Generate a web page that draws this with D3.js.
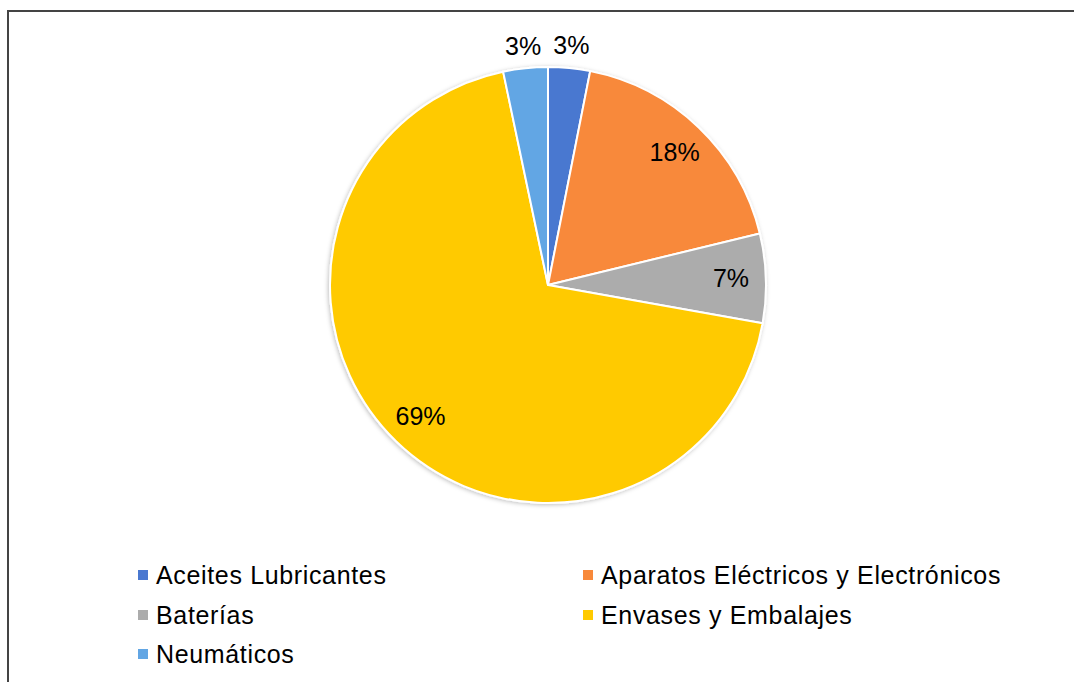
<!DOCTYPE html>
<html>
<head>
<meta charset="utf-8">
<script src="https://cdn.jsdelivr.net/npm/d3@7"></script>
<style>
  body { margin: 0; background: #fff; }
  svg { display: block; font-family: "Liberation Sans", Arial, sans-serif; }
</style>
</head>
<body>
<svg width="1074" height="682"></svg>
<script>
// categories, values (%) and colours
const categories = ['Aceites Lubricantes', 'Aparatos Eléctricos y Electrónicos', 'Baterías', 'Envases y Embalajes', 'Neumáticos'];
const values = [3.1, 18.1, 6.6, 68.9, 3.3];
const colors = ['#4a78d0', '#f8893a', '#acacac', '#ffca00', '#62a6e4'];

const width = 1074, height = 682;
const cx = 548, cy = 285, radius = 218;

let svg = d3.select('svg');

// frame (only top and left edges visible)
svg.append('path')
    .attr('d', `M8,${height} L8,11 L${width},11`)
    .attr('fill', 'none')
    .attr('stroke', '#444')
    .attr('stroke-width', 2);

// soft shadow under the pie
let defs = svg.append('defs');
let filter = defs.append('filter').attr('id', 'shadow')
    .attr('x', '-10%').attr('y', '-10%').attr('width', '120%').attr('height', '120%');
filter.append('feDropShadow')
    .attr('dx', -1).attr('dy', 1)
    .attr('stdDeviation', 2)
    .attr('flood-color', '#000')
    .attr('flood-opacity', 0.25);

let data = categories.map((c, i) => ({name: c, value: values[i], color: colors[i]}));

let pie = d3.pie().sort(null).value(d => d.value);
let arc = d3.arc().innerRadius(0).outerRadius(radius);
let arcs = pie(data);

let g = svg.append('g').attr('transform', `translate(${cx},${cy})`);

g.append('g')
    .attr('filter', 'url(#shadow)')
  .selectAll('path')
  .data(arcs)
  .enter()
  .append('path')
    .attr('d', arc)
    .attr('fill', d => d.data.color)
    .attr('stroke', '#fff')
    .attr('stroke-width', 2)
    .attr('stroke-linejoin', 'round');

//Labels: small slices go outside the pie
let inner = d3.arc().innerRadius(radius * 0.84).outerRadius(radius * 0.84);
let outer = d3.arc().innerRadius(radius + 22).outerRadius(radius + 22);

g.selectAll('text.label')
  .data(arcs)
  .enter()
  .append('text')
    .classed('label', true)
    .attr('transform', d => `translate(${(d.data.value < 5 ? outer : inner).centroid(d)})`)
    .attr('text-anchor', 'middle')
    .attr('dy', '0.33em')
    .style('font-size', '25px')
    .attr('fill', '#000')
    .text(d => `${Math.round(d.data.value)}%`);

//Legend, two columns
let legendCols = [138, 583], legendRows = [584, 624, 663];
let legend = svg.append('g').classed('legend', true);
let items = legend.selectAll('g')
  .data(data)
  .enter()
  .append('g')
    .attr('transform', (d, i) => `translate(${legendCols[i % 2]},${legendRows[Math.floor(i / 2)]})`);

items.append('rect')
    .attr('x', 0).attr('y', -14)
    .attr('width', 10).attr('height', 10)
    .attr('fill', d => d.color);

items.append('text')
    .attr('x', 18)
    .style('font-size', '25px')
    .style('letter-spacing', '0.65px')
    .attr('fill', '#000')
    .text(d => d.name);
</script>
</body>
</html>
